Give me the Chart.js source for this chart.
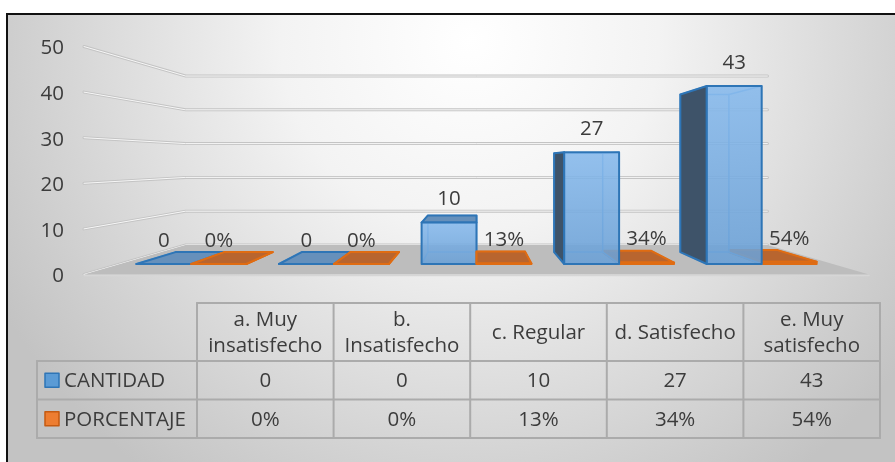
<!DOCTYPE html>
<html lang="es">
<head>
<meta charset="utf-8">
<title>Nivel de satisfacción</title>
<script src="https://cdn.jsdelivr.net/npm/chart.js@4.4.1/dist/chart.umd.min.js"></script>
<style>
  html, body { margin: 0; padding: 0; background: #fff; }
  #contenedor { width: 895px; height: 462px; }
</style>
</head>
<body>
<div id="contenedor"><canvas id="grafico" width="895" height="462"></canvas></div>
<script>
// Datos del gráfico
const categorias = ['a. Muy insatisfecho', 'b. Insatisfecho', 'c. Regular', 'd. Satisfecho', 'e. Muy satisfecho'];
const nombresSeries = ['CANTIDAD', 'PORCENTAJE'];
const cantidad = [0, 0, 10, 27, 43];
const porcentaje = [0, 0, 0.13, 0.34, 0.54];
const ticksEjeY = [0, 10, 20, 30, 40, 50];

// Estilos
const FUENTE = '20.5px "Open Sans"';
const COLOR_TEXTO = '#3c3c3c';
const estilos = [
  { frente: ['#86b9ec', '#6aa0d6'], alfa: 0.88, lado: '#3e5369', tapa: '#6690bb', borde: '#2e75b6', interior: '#6aa8e2', leyenda: '#5b9bd5', bordeLeyenda: '#2e75b6' },
  { frente: ['#c9692c', '#c9692c'], alfa: 0.9, lado: '#8a4216', tapa: '#b8652f', borde: '#e06c12', interior: '#d07a40', leyenda: '#ed7d31', bordeLeyenda: '#c55a11' }
];

// Profundidad relativa de cada plano respecto al frente de las columnas
const K_FRENTE = 1.101;   // plano de las etiquetas del eje
const K_FONDO_BARRA = 0.885;
const K_PARED = 0.816;    // pared del fondo

// Tabla de datos
const TABLA = { x0: 37, xCab: 197, x1: 880, yTop: 303, yCab: 361, alturaFila: 38.5 };

function proyectar(p, vp, k) {
  return [vp.x + (p[0] - vp.x) * k, vp.y + (p[1] - vp.y) * k];
}

function poligono(ctx, pts, relleno, borde, ancho) {
  ctx.beginPath();
  ctx.moveTo(pts[0][0], pts[0][1]);
  for (let i = 1; i < pts.length; i++) ctx.lineTo(pts[i][0], pts[i][1]);
  ctx.closePath();
  if (relleno) { ctx.fillStyle = relleno; ctx.fill(); }
  if (borde) {
    ctx.strokeStyle = borde;
    ctx.lineWidth = ancho;
    ctx.lineJoin = 'round';
    ctx.stroke();
  }
}

function linea(ctx, a, b) {
  ctx.beginPath();
  ctx.moveTo(a[0], a[1]);
  ctx.lineTo(b[0], b[1]);
  ctx.stroke();
}

/**
 * Dibuja una columna en perspectiva a partir del elemento de barra
 */
function dibujarColumna(ctx, barra, vp, est) {
  const x0 = barra.x - barra.width / 2;
  const x1 = barra.x + barra.width / 2;
  const yT = Math.min(barra.y, barra.base);
  const yB = barra.base;
  const F = [[x0, yT], [x1, yT], [x1, yB], [x0, yB]];
  const B = F.map(p => proyectar(p, vp, K_FONDO_BARRA));

  // Aristas traseras, visibles a través del frente
  ctx.strokeStyle = est.interior;
  ctx.lineWidth = 1.5;
  poligono(ctx, B, null, est.interior, 1.5);
  for (let i = 0; i < 4; i++) linea(ctx, F[i], B[i]);

  // Caras laterales y tapa
  if (x0 > vp.x) poligono(ctx, [F[0], B[0], B[3], F[3]], est.lado, est.borde, 2);
  if (x1 < vp.x) poligono(ctx, [F[1], B[1], B[2], F[2]], est.lado, est.borde, 2);
  if (yT > vp.y) poligono(ctx, [F[0], F[1], B[1], B[0]], est.tapa, est.borde, 2);

  // Cara frontal
  const grad = ctx.createLinearGradient(0, yT, 0, yB);
  grad.addColorStop(0, est.frente[0]);
  grad.addColorStop(1, est.frente[1]);
  ctx.globalAlpha = est.alfa;
  poligono(ctx, F, grad, null, 0);
  ctx.globalAlpha = 1;
  poligono(ctx, F, null, est.borde, 2);
}

function partirTexto(ctx, texto, maxAncho) {
  const palabras = texto.split(' ');
  const lineas = [];
  let actual = '';
  palabras.forEach(p => {
    const prueba = actual ? actual + ' ' + p : p;
    if (actual && ctx.measureText(prueba).width > maxAncho) {
      lineas.push(actual);
      actual = p;
    } else {
      actual = prueba;
    }
  });
  if (actual) lineas.push(actual);
  return lineas;
}

function dibujarTabla(ctx, chart) {
  const series = chart.data.datasets;
  const anchoCol = (TABLA.x1 - TABLA.xCab) / categorias.length;
  const yFilas = series.map((_, i) => TABLA.yCab + TABLA.alturaFila * i);
  const yFin = TABLA.yCab + TABLA.alturaFila * series.length;

  ctx.strokeStyle = '#ababab';
  ctx.lineWidth = 2;
  // Horizontales
  linea(ctx, [TABLA.xCab, TABLA.yTop], [TABLA.x1, TABLA.yTop]);
  yFilas.concat([yFin]).forEach(y => linea(ctx, [TABLA.x0, y], [TABLA.x1, y]));
  // Verticales
  linea(ctx, [TABLA.x0, TABLA.yCab], [TABLA.x0, yFin]);
  for (let i = 0; i <= categorias.length; i++) {
    const x = TABLA.xCab + anchoCol * i;
    linea(ctx, [x, TABLA.yTop], [x, yFin]);
  }

  ctx.font = FUENTE;
  ctx.fillStyle = COLOR_TEXTO;
  ctx.textAlign = 'center';
  ctx.textBaseline = 'alphabetic';

  // Encabezados de categorías
  const yCentroCab = (TABLA.yTop + TABLA.yCab) / 2;
  categorias.forEach((cat, i) => {
    const lineas = partirTexto(ctx, cat, anchoCol - 8);
    const xc = TABLA.xCab + anchoCol * (i + 0.5);
    lineas.forEach((l, j) => {
      const y = yCentroCab + 7 + (j - (lineas.length - 1) / 2) * 26;
      ctx.fillText(l, xc, y);
    });
  });

  // Filas de series
  series.forEach((ds, s) => {
    const yc = yFilas[s] + TABLA.alturaFila / 2;
    const est = estilos[s];
    ctx.fillStyle = est.leyenda;
    ctx.fillRect(TABLA.x0 + 8, yc - 7, 14, 14);
    ctx.strokeStyle = est.bordeLeyenda;
    ctx.lineWidth = 1.5;
    ctx.strokeRect(TABLA.x0 + 8, yc - 7, 14, 14);

    ctx.fillStyle = COLOR_TEXTO;
    ctx.textAlign = 'left';
    ctx.fillText(ds.label, TABLA.x0 + 27, yc + 7);
    ctx.textAlign = 'center';
    ds.data.forEach((v, i) => {
      ctx.fillText(formatear(s, v), TABLA.xCab + anchoCol * (i + 0.5), yc + 7);
    });
  });
}

function formatear(serie, v) {
  return serie === 1 ? Math.round(v * 100) + '%' : String(v);
}

const plugin3D = {
  id: 'columnas3d',
  beforeDraw(chart) {
    const ctx = chart.ctx;
    const w = chart.width, h = chart.height;
    ctx.save();
    ctx.fillStyle = '#ffffff';
    ctx.fillRect(0, 0, w, h);
    const fondo = ctx.createRadialGradient(470, 40, 0, 470, 40, 540);
    fondo.addColorStop(0, '#ffffff');
    fondo.addColorStop(0.35, '#f3f3f3');
    fondo.addColorStop(1, '#c3c3c3');
    ctx.fillStyle = fondo;
    ctx.fillRect(7, 14, w - 7, h - 14);
    // Marco
    ctx.strokeStyle = '#111111';
    ctx.lineWidth = 2;
    ctx.beginPath();
    ctx.moveTo(7, h);
    ctx.lineTo(7, 14);
    ctx.lineTo(w, 14);
    ctx.stroke();
    ctx.restore();
  },
  beforeDatasetsDraw(chart) {
    const ctx = chart.ctx;
    const area = chart.chartArea;
    const yEje = chart.scales.y;
    const vp = { x: (area.left + area.right) / 2, y: yEje.getPixelForValue((yEje.min + yEje.max) / 2) };
    ctx.save();

    const xFrenteIzq = proyectar([area.left, 0], vp, K_FRENTE)[0];
    const xFrenteDer = proyectar([area.right, 0], vp, K_FRENTE)[0];
    const xParedIzq = proyectar([area.left, 0], vp, K_PARED)[0];
    const xParedDer = proyectar([area.right, 0], vp, K_PARED)[0];

    // Líneas de división en la pared lateral y del fondo
    yEje.ticks.forEach(t => {
      const py = yEje.getPixelForValue(t.value);
      const yf = proyectar([0, py], vp, K_FRENTE)[1];
      const yb = proyectar([0, py], vp, K_PARED)[1];
      ctx.lineCap = 'round';
      ctx.strokeStyle = '#c4c4c4';
      ctx.lineWidth = 3;
      ctx.beginPath();
      ctx.moveTo(xFrenteIzq, yf);
      ctx.lineTo(xParedIzq, yb);
      ctx.lineTo(xParedDer, yb);
      ctx.stroke();
      ctx.strokeStyle = '#f7f7f7';
      ctx.lineWidth = 1;
      ctx.beginPath();
      ctx.moveTo(xFrenteIzq, yf);
      ctx.lineTo(xParedIzq, yb);
      ctx.lineTo(xParedDer, yb);
      ctx.stroke();

      // Etiqueta del eje
      ctx.font = FUENTE;
      ctx.fillStyle = COLOR_TEXTO;
      ctx.textAlign = 'right';
      ctx.textBaseline = 'middle';
      ctx.fillText(String(t.value), xFrenteIzq - 20, yf + 2);
    });

    // Piso
    const p0 = yEje.getPixelForValue(0);
    const yPisoFondo = proyectar([0, p0], vp, K_PARED)[1];
    const yPisoFrente = proyectar([0, p0], vp, K_FRENTE)[1];
    poligono(ctx, [[xParedIzq, yPisoFondo], [xParedDer, yPisoFondo], [xFrenteDer, yPisoFrente], [xFrenteIzq, yPisoFrente]], '#bdbdbd', null, 0);
    ctx.strokeStyle = '#d6d6d6';
    ctx.lineWidth = 1.5;
    linea(ctx, [xFrenteIzq, yPisoFrente + 1], [xFrenteDer, yPisoFrente + 1]);

    // Columnas: primero las más alejadas del punto de fuga
    const columnas = [];
    chart.data.datasets.forEach((ds, s) => {
      chart.getDatasetMeta(s).data.forEach((el, i) => {
        columnas.push({ el, s, i });
      });
    });
    columnas.sort((a, b) => Math.abs(b.el.x - vp.x) - Math.abs(a.el.x - vp.x));
    columnas.forEach(c => dibujarColumna(ctx, c.el, vp, estilos[c.s]));

    // Etiquetas de datos
    ctx.font = FUENTE;
    ctx.fillStyle = COLOR_TEXTO;
    ctx.textAlign = 'center';
    ctx.textBaseline = 'middle';
    columnas.forEach(c => {
      const v = chart.data.datasets[c.s].data[c.i];
      ctx.fillText(formatear(c.s, v), c.el.x, Math.min(c.el.y, c.el.base) - 23);
    });

    dibujarTabla(ctx, chart);
    ctx.restore();
    return false;
  }
};

new Chart(document.getElementById('grafico'), {
  type: 'bar',
  data: {
    labels: categorias,
    datasets: [
      { label: nombresSeries[0], data: cantidad },
      { label: nombresSeries[1], data: porcentaje }
    ]
  },
  options: {
    responsive: false,
    animation: false,
    devicePixelRatio: 1,
    layout: { padding: { left: 120, right: 62, top: 57, bottom: 198 } },
    datasets: { bar: { categoryPercentage: 0.77, barPercentage: 1 } },
    plugins: { legend: { display: false }, tooltip: { enabled: false } },
    scales: {
      x: { display: false },
      y: {
        display: false,
        min: ticksEjeY[0],
        max: ticksEjeY[ticksEjeY.length - 1],
        afterBuildTicks: scale => { scale.ticks = ticksEjeY.map(v => ({ value: v })); }
      }
    }
  },
  plugins: [plugin3D]
});
</script>
</body>
</html>
